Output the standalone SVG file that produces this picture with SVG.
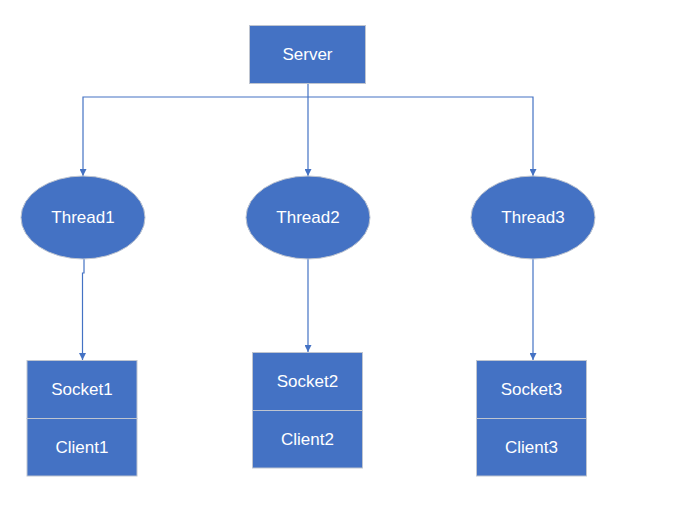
<svg xmlns="http://www.w3.org/2000/svg" width="679" height="512" viewBox="0 0 679 512">
<style>
.box{fill:#4472C4;stroke:#BFC5D0;stroke-width:1}
.lbl{font-family:"Liberation Sans",Arial,sans-serif;font-size:17px;fill:#FFFFFF;text-anchor:middle;dominant-baseline:central}
.con{fill:none;stroke:#4472C4;stroke-width:1.2}
</style>
<defs>
<marker id="ah" viewBox="0 0 10 10" refX="10" refY="5" markerWidth="7" markerHeight="7" markerUnits="userSpaceOnUse" orient="auto">
<path d="M0 0 L10 5 L0 10 Z" fill="#4472C4"/>
</marker>
</defs>
<rect width="679" height="512" fill="#FFFFFF"/>
<g id="connectors">
<path class="con" d="M308 83 V176" marker-end="url(#ah)"/>
<path class="con" d="M308 97 H83 V176" marker-end="url(#ah)"/>
<path class="con" d="M308 97 H533 V176" marker-end="url(#ah)"/>
<path class="con" d="M84 259 V273 H82.5 V360" marker-end="url(#ah)"/>
<path class="con" d="M308 259 V352" marker-end="url(#ah)"/>
<path class="con" d="M533 259 V360" marker-end="url(#ah)"/>
</g>
<g id="server">
<rect class="box" x="249.5" y="25.5" width="116" height="58"/>
<text class="lbl" x="307.5" y="54">Server</text>
</g>
<g id="thread1">
<ellipse class="box" cx="83" cy="217.5" rx="62" ry="41.5"/>
<text class="lbl" x="83" y="217.5">Thread1</text>
</g>
<g id="thread2">
<ellipse class="box" cx="308" cy="217.5" rx="62" ry="41.5"/>
<text class="lbl" x="308" y="217.5">Thread2</text>
</g>
<g id="thread3">
<ellipse class="box" cx="533" cy="217.5" rx="62" ry="41.5"/>
<text class="lbl" x="533" y="217.5">Thread3</text>
</g>
<g id="socket1">
<rect class="box" x="27" y="360.5" width="110" height="58"/>
<text class="lbl" x="82" y="389">Socket1</text>
</g>
<g id="client1">
<rect class="box" x="27" y="418.5" width="110" height="57.5"/>
<text class="lbl" x="82" y="447">Client1</text>
</g>
<g id="socket2">
<rect class="box" x="252.5" y="352.5" width="110" height="58"/>
<text class="lbl" x="307.5" y="381">Socket2</text>
</g>
<g id="client2">
<rect class="box" x="252.5" y="410.5" width="110" height="57.5"/>
<text class="lbl" x="307.5" y="439">Client2</text>
</g>
<g id="socket3">
<rect class="box" x="476.5" y="360.5" width="110" height="58"/>
<text class="lbl" x="531.5" y="389">Socket3</text>
</g>
<g id="client3">
<rect class="box" x="476.5" y="418.5" width="110" height="57.5"/>
<text class="lbl" x="531.5" y="447">Client3</text>
</g>
</svg>
